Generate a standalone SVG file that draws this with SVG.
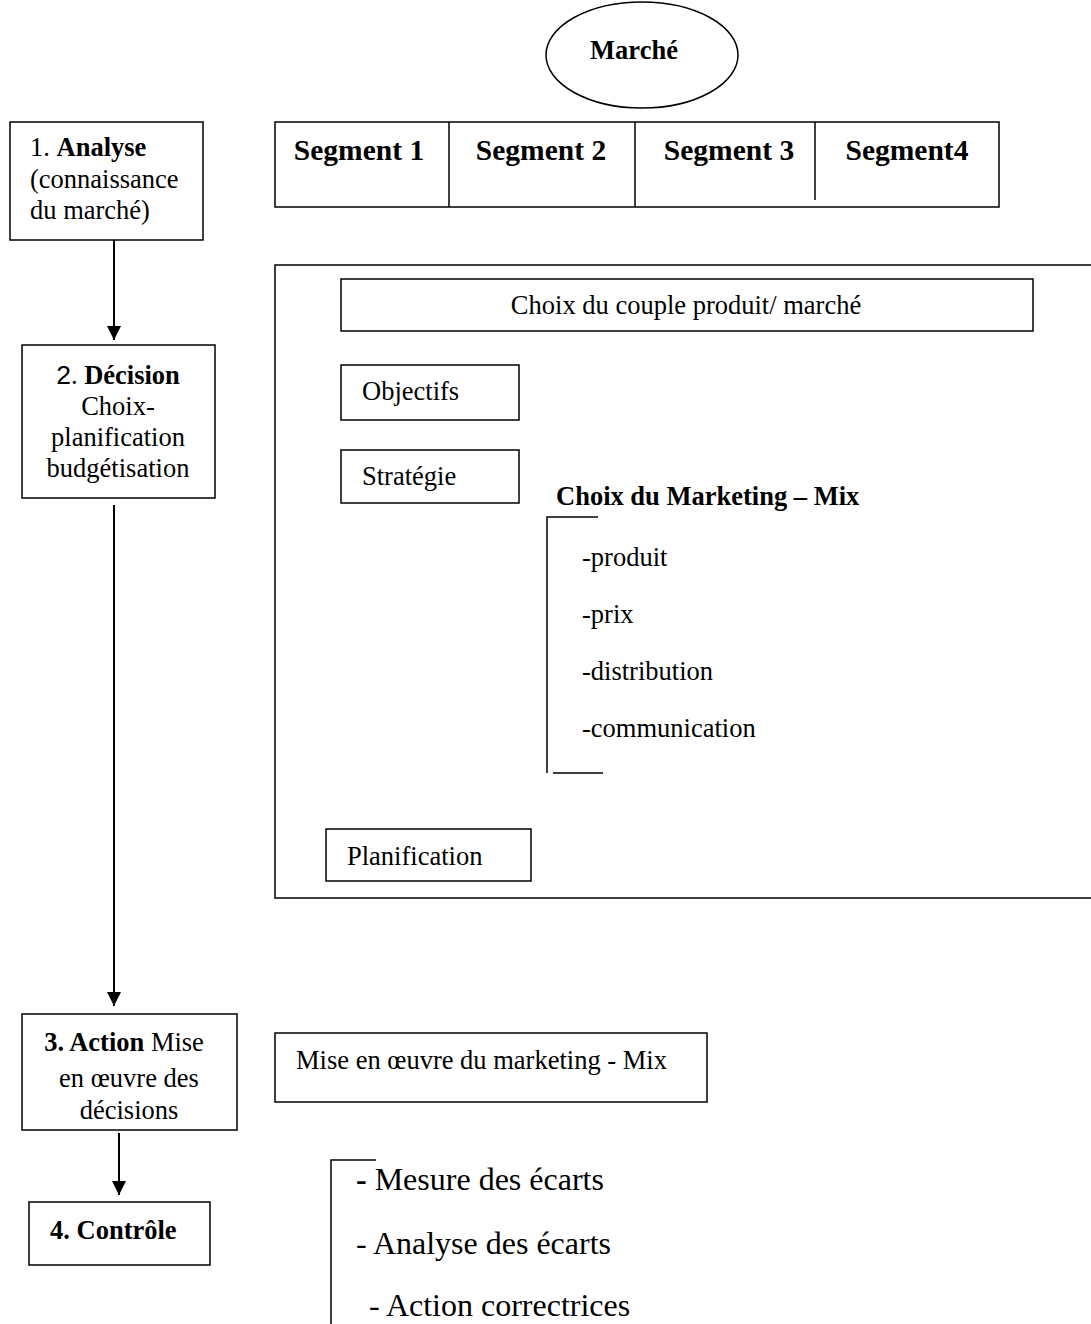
<svg xmlns="http://www.w3.org/2000/svg" width="1091" height="1324" viewBox="0 0 1091 1324">
  <style>
    text { font-family: "Liberation Serif", "Times New Roman", serif; fill: #000; }
    .box { fill: #fff; stroke: #000; stroke-width: 1.5; }
    .ln { fill: none; stroke: #000; stroke-width: 1.5; }
    .arr { fill: none; stroke: #000; stroke-width: 2; }
    .f20 { font-size: 26.5px; }
    .f22 { font-size: 26.5px; }
    .f24 { font-size: 29.5px; }
    .f26 { font-size: 32px; }
    .b { font-weight: bold; }
    .mid { text-anchor: middle; }
  </style>
  <defs>
    <marker id="arrow" viewBox="0 0 10 10" refX="10" refY="5" markerWidth="15" markerHeight="14" markerUnits="userSpaceOnUse" orient="auto">
      <path d="M0,0 L10,5 L0,10 z" fill="#000"/>
    </marker>
  </defs>
  <rect width="1091" height="1324" fill="#fff"/>

  <!-- connectors between the step boxes -->
  <g id="connectors">
    <line class="arr" x1="114" y1="240" x2="114" y2="340" marker-end="url(#arrow)"/>
    <line class="arr" x1="114" y1="505" x2="114" y2="1006" marker-end="url(#arrow)"/>
    <line class="arr" x1="119" y1="1133" x2="119" y2="1195" marker-end="url(#arrow)"/>
  </g>

  <g id="marche">
    <ellipse class="box" cx="642" cy="55" rx="96" ry="53"/>
    <text class="f20 b mid" x="634" y="59">Marché</text>
  </g>

  <g id="segments">
    <rect class="box" x="275" y="122" width="724" height="85"/>
    <line class="ln" x1="449" y1="122" x2="449" y2="207"/>
    <line class="ln" x1="635" y1="122" x2="635" y2="207"/>
    <line class="ln" x1="815" y1="122" x2="815" y2="200"/>
    <text class="f24 b mid" x="359" y="160">Segment 1</text>
    <text class="f24 b mid" x="541" y="160">Segment 2</text>
    <text class="f24 b mid" x="729" y="160">Segment 3</text>
    <text class="f24 b mid" x="907" y="160">Segment4</text>
  </g>

  <g id="analyse">
    <rect class="box" x="10" y="122" width="193" height="118"/>
    <text class="f22" x="30" y="156">1. <tspan class="b">Analyse</tspan></text>
    <text class="f22" x="30" y="188">(connaissance</text>
    <text class="f22" x="30" y="219">du marché)</text>
  </g>

  <g id="decision">
    <rect class="box" x="22" y="345" width="193" height="153"/>
    <text class="f22 mid" x="118" y="384"><tspan font-family="Liberation Sans, Arial, sans-serif">2</tspan>. <tspan class="b">Décision</tspan></text>
    <text class="f22 mid" x="118" y="415">Choix-</text>
    <text class="f22 mid" x="118" y="446">planification</text>
    <text class="f22 mid" x="118" y="477">budgétisation</text>
  </g>

  <!-- planning frame: open on the right side -->
  <g id="planning-frame">
    <polyline class="ln" points="1091,265 275,265 275,898 1091,898"/>
  </g>

  <g id="couple">
    <rect class="box" x="341" y="279" width="692" height="52"/>
    <text class="f20 mid" x="686" y="314">Choix du couple produit/ marché</text>
  </g>

  <g id="objectifs">
    <rect class="box" x="341" y="365" width="178" height="55"/>
    <text class="f20" x="362" y="400">Objectifs</text>
  </g>

  <g id="strategie">
    <rect class="box" x="341" y="450" width="178" height="53"/>
    <text class="f20" x="362" y="485">Stratégie</text>
  </g>

  <g id="marketing-mix">
    <text class="f22 b" x="556" y="505">Choix du Marketing – Mix</text>
    <polyline class="ln" points="598,517 547,517 547,773"/>
    <line class="ln" x1="553" y1="773" x2="603" y2="773"/>
    <text class="f22" x="582" y="566">-produit</text>
    <text class="f22" x="582" y="623">-prix</text>
    <text class="f22" x="582" y="680">-distribution</text>
    <text class="f22" x="582" y="737">-communication</text>
  </g>

  <g id="planification">
    <rect class="box" x="326" y="829" width="205" height="52"/>
    <text class="f20" x="347" y="865">Planification</text>
  </g>

  <g id="action">
    <rect class="box" x="22" y="1014" width="215" height="116"/>
    <text class="f22 mid" x="124" y="1051"><tspan class="b">3. Action</tspan> Mise</text>
    <text class="f22 mid" x="129" y="1087">en œuvre des</text>
    <text class="f22 mid" x="129" y="1119">décisions</text>
  </g>

  <g id="mise-en-oeuvre">
    <rect class="box" x="275" y="1033" width="432" height="69"/>
    <text class="f20" x="296" y="1069">Mise en œuvre du marketing - Mix</text>
  </g>

  <g id="controle">
    <rect class="box" x="29" y="1202" width="181" height="63"/>
    <text class="f22 b" x="50" y="1239">4. Contrôle</text>
  </g>

  <g id="ecarts">
    <polyline class="ln" points="376,1160 331,1160 331,1324"/>
    <text class="f26" x="356" y="1190"><tspan class="b">-</tspan> Mesure des écarts</text>
    <text class="f26" x="356" y="1254">- Analyse des écarts</text>
    <text class="f26" x="369" y="1316">- Action correctrices</text>
  </g>
</svg>
